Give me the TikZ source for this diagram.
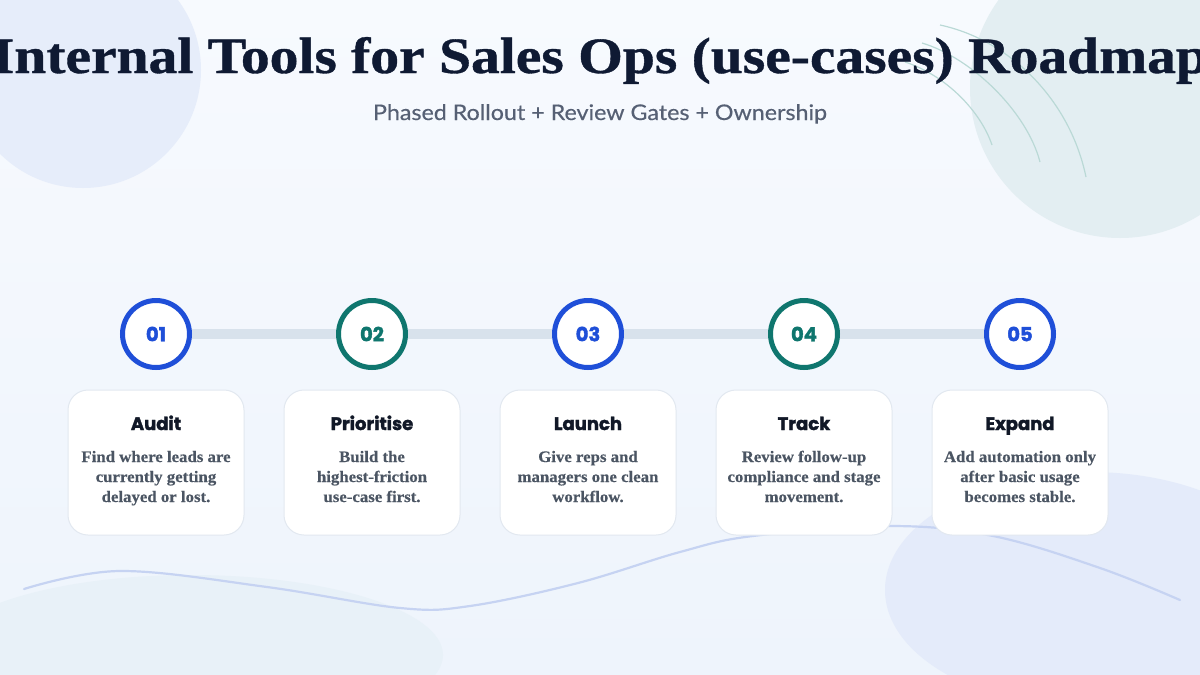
\documentclass[tikz,border=0pt]{standalone}
\usepackage{fontspec}
\usepackage{graphicx}
\setmainfont{Liberation Serif}
\newfontfamily\titlefont{Liberation Serif}[BoldFeatures={FakeBold=0.7}]
\newfontfamily\bodyfont{Liberation Serif}[FakeStretch=1.05,BoldFeatures={FakeBold=0.4}]
\newfontfamily\headfont{Poppins}[BoldFeatures={FakeBold=1.8}]
\newfontfamily\subfont{Lato}[FakeBold=0.4]
\definecolor{bgtop}{HTML}{F7FAFE}
\definecolor{bgbot}{HTML}{EEF4FC}
\definecolor{blobA}{HTML}{E6EDFA}
\definecolor{blobB}{HTML}{E3EEF2}
\definecolor{blobC}{HTML}{E8F1F8}
\definecolor{blobD}{HTML}{E4EBFA}
\definecolor{arccol}{HTML}{BAD9D6}
\definecolor{wavecol}{HTML}{C6D3F2}
\definecolor{barcol}{HTML}{D8E2EC}
\definecolor{stepblue}{HTML}{1F4FD8}
\definecolor{stepteal}{HTML}{0F766E}
\definecolor{titlecol}{HTML}{0F1A33}
\definecolor{subcol}{HTML}{566074}
\definecolor{headcol}{HTML}{111827}
\definecolor{bodycol}{HTML}{4B5563}
\definecolor{cardline}{HTML}{E2E8F0}
\pgfdeclarelayer{deco}
\pgfdeclarelayer{barlayer}
\pgfsetlayers{deco,barlayer,main}
\begin{document}
\begin{tikzpicture}[x=1pt,y=-1pt,
  stepcirc/.style={circle,draw,line width=5pt,fill=white,inner sep=0pt,minimum size=67pt,
     font=\headfont\bfseries\fontsize{19.5}{20}\selectfont},
  bluestep/.style={stepcirc,draw=stepblue,text=stepblue},
  tealstep/.style={stepcirc,draw=stepteal,text=stepteal},
  card/.style={draw=cardline,line width=1pt,fill=white,rounded corners=20pt,
     minimum width=176pt,minimum height=145pt,inner sep=0pt},
  bar/.style={draw=barcol,line width=9.5pt},
  titletext/.style={anchor=base,inner sep=0pt,text=titlecol,
     font=\titlefont\bfseries\fontsize{51}{60}\selectfont},
  subtext/.style={anchor=base,inner sep=0pt,text=subcol,
     font=\subfont\fontsize{21.5}{24}\selectfont},
  headtext/.style={anchor=base,inner sep=0pt,text=headcol,
     font=\headfont\bfseries\fontsize{18}{20}\selectfont},
  bodytext/.style={anchor=base,inner sep=0pt,text=bodycol,align=center,
     font=\bodyfont\bfseries\fontsize{16}{20}\selectfont},
  arcline/.style={draw=arccol,line width=1.2pt},
  waveline/.style={draw=wavecol,line width=2.2pt,line cap=round}
]
\useasboundingbox (0,0) rectangle (1200,675);
\begin{pgfonlayer}{deco}
\begin{scope}
\clip (0,0) rectangle (1200,675);
\shade[top color=bgtop,bottom color=bgbot] (0,0) rectangle (1200,675);
\fill[blobA] (83,70) circle[radius=118];
\fill[blobB] (1120,88) circle[radius=150];
\fill[blobC] (191,655) ellipse[x radius=252,y radius=80];
\fill[blobD] (1090,590) ellipse[x radius=205,y radius=118];
\draw[arcline] (940,25) .. controls (1010,40) and (1070,100) .. (1086,177);
\draw[arcline] (922,43) .. controls (972,58) and (1027,112) .. (1040,162);
\draw[arcline] (905,62) .. controls (945,75) and (980,110) .. (992,145);
\draw[waveline] plot[smooth,tension=0.6] coordinates
  {(24,589) (120,571) (267,587) (400,608) (470,606) (578,583) (680,552) (753,536) (889,526) (993,536) (1100,568) (1180,600)};
\end{scope}
\end{pgfonlayer}

\node[titletext] (title) at (600,73) {\resizebox{1216pt}{\height}{Internal Tools for Sales Ops (use-cases) Roadmap}};
\node[subtext] (sub) at (600,120) {\resizebox{454pt}{\height}{Phased Rollout + Review Gates + Ownership}};

\node[bluestep] (n1) at (156,334) {01};
\node[tealstep] (n2) at (372,334) {02};
\node[bluestep] (n3) at (588,334) {03};
\node[tealstep] (n4) at (804,334) {04};
\node[bluestep] (n5) at (1020,334) {05};
\begin{pgfonlayer}{barlayer}
\draw[bar] (n1) -- (n2);
\draw[bar] (n2) -- (n3);
\draw[bar] (n3) -- (n4);
\draw[bar] (n4) -- (n5);
\end{pgfonlayer}

\node[card] (c1) at (156,462.5) {};
\node[card] (c2) at (372,462.5) {};
\node[card] (c3) at (588,462.5) {};
\node[card] (c4) at (804,462.5) {};
\node[card] (c5) at (1020,462.5) {};

\node[headtext] (h1) at (156,430) {Audit};
\node[headtext] (h2) at (372,430) {Prioritise};
\node[headtext] (h3) at (588,430) {Launch};
\node[headtext] (h4) at (804,430) {Track};
\node[headtext] (h5) at (1020,430) {Expand};

\node[bodytext] (b1) at (156,502) {Find where leads are\\currently getting\\delayed or lost.};
\node[bodytext] (b2) at (372,502) {Build the\\highest-friction\\use-case first.};
\node[bodytext] (b3) at (588,502) {Give reps and\\managers one clean\\workflow.};
\node[bodytext] (b4) at (804,502) {Review follow-up\\compliance and stage\\movement.};
\node[bodytext] (b5) at (1020,502) {Add automation only\\after basic usage\\becomes stable.};
\end{tikzpicture}
\end{document}
